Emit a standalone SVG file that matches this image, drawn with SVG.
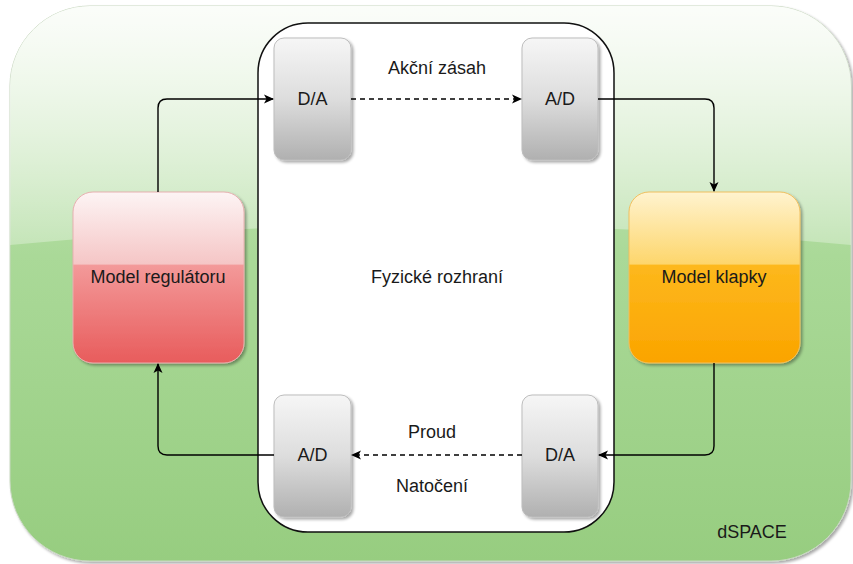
<svg xmlns="http://www.w3.org/2000/svg" width="853" height="564" viewBox="0 0 853 564">
<defs>
<linearGradient id="gGreen" x1="0" y1="0" x2="0" y2="1">
<stop offset="0" stop-color="#d6ecca"/>
<stop offset="0.45" stop-color="#aad998"/>
<stop offset="1" stop-color="#97cd80"/>
</linearGradient>
<linearGradient id="gGloss" x1="0" y1="0" x2="0" y2="1">
<stop offset="0" stop-color="#ffffff" stop-opacity="0.9"/>
<stop offset="1" stop-color="#ffffff" stop-opacity="0.3"/>
</linearGradient>
<linearGradient id="gGray" x1="0" y1="0" x2="0" y2="1">
<stop offset="0" stop-color="#f6f6f6"/>
<stop offset="0.5" stop-color="#dddddd"/>
<stop offset="1" stop-color="#b0b0b0"/>
</linearGradient>
<linearGradient id="gRed" x1="0" y1="0" x2="0" y2="1">
<stop offset="0" stop-color="#fdf4f4"/>
<stop offset="0.42" stop-color="#f5c6c6"/>
<stop offset="0.43" stop-color="#f39999"/>
<stop offset="1" stop-color="#e85c5c"/>
</linearGradient>
<linearGradient id="gOrange" x1="0" y1="0" x2="0" y2="1">
<stop offset="0" stop-color="#fff3cf"/>
<stop offset="0.42" stop-color="#fdd66c"/>
<stop offset="0.43" stop-color="#fdb81c"/>
<stop offset="1" stop-color="#fba400"/>
</linearGradient>
<filter id="shadow" x="-10%" y="-10%" width="130%" height="130%">
<feGaussianBlur in="SourceAlpha" stdDeviation="1.5"/>
<feOffset dx="2" dy="2" result="b"/>
<feComponentTransfer><feFuncA type="linear" slope="0.35"/></feComponentTransfer>
<feMerge><feMergeNode/><feMergeNode in="SourceGraphic"/></feMerge>
</filter>
<marker id="arr" viewBox="0 0 10 10" refX="9" refY="5" markerWidth="10" markerHeight="10" markerUnits="userSpaceOnUse" orient="auto">
<path d="M0,0.5 L10,5 L0,9.5 L2.5,5 Z" fill="#000"/>
</marker>
</defs>
<style>
text{font-family:"Liberation Sans",Arial,sans-serif;font-size:18px;fill:#1a1a1a;text-anchor:middle;dominant-baseline:central}
.conv{fill:url(#gGray);stroke:#bdbdbd;stroke-width:1;filter:url(#shadow)}
.ln{fill:none;stroke:#000;stroke-width:1.4;marker-end:url(#arr)}
.dash{stroke-dasharray:5 4}
</style>
<g id="dspace">
<rect x="10" y="6" width="841" height="555" rx="80" fill="url(#gGreen)" stroke="#c8d8c0" stroke-width="1" filter="url(#shadow)"/>
<path d="M10,245 L10,86 A80,80 0 0 1 90,6 L771,6 A80,80 0 0 1 851,86 L851,245 Q430,205 10,245 Z" fill="url(#gGloss)"/>
<text x="752" y="532">dSPACE</text>
</g>
<g id="interface">
<rect x="258" y="23" width="356" height="509" rx="50" fill="#ffffff" stroke="#111" stroke-width="1.5"/>
<text x="437" y="277">Fyzické rozhraní</text>
</g>
<g id="da-top">
<rect class="conv" x="274" y="38" width="77" height="122" rx="10"/>
<text x="312.5" y="99">D/A</text>
</g>
<g id="ad-top">
<rect class="conv" x="522" y="38" width="76" height="122" rx="10"/>
<text x="560" y="99">A/D</text>
</g>
<g id="ad-bottom">
<rect class="conv" x="274" y="395" width="77" height="122" rx="10"/>
<text x="312.5" y="455">A/D</text>
</g>
<g id="da-bottom">
<rect class="conv" x="522" y="395" width="76" height="122" rx="10"/>
<text x="560" y="455">D/A</text>
</g>
<g id="regulator">
<rect x="73" y="192" width="171" height="171" rx="20" fill="url(#gRed)" stroke="#e7b0b0" stroke-width="1" filter="url(#shadow)"/>
<text x="158" y="277">Model regulátoru</text>
</g>
<g id="klapka">
<rect x="629" y="192" width="171" height="171" rx="20" fill="url(#gOrange)" stroke="#f0c060" stroke-width="1" filter="url(#shadow)"/>
<text x="714" y="277">Model klapky</text>
</g>
<g id="connectors">
<path class="ln" d="M158,192 L158,108 Q158,99 167,99 L273,99"/>
<path class="ln dash" d="M351,99 L521,99"/>
<path class="ln" d="M598,99 L705,99 Q714,99 714,108 L714,191"/>
<path class="ln" d="M714,363 L714,446 Q714,455 705,455 L599,455"/>
<path class="ln dash" d="M522,455 L352,455"/>
<path class="ln" d="M274,455 L167,455 Q158,455 158,446 L158,364"/>
<text x="437" y="68">Akční zásah</text>
<text x="432" y="432">Proud</text>
<text x="432" y="486">Natočení</text>
</g>
</svg>
